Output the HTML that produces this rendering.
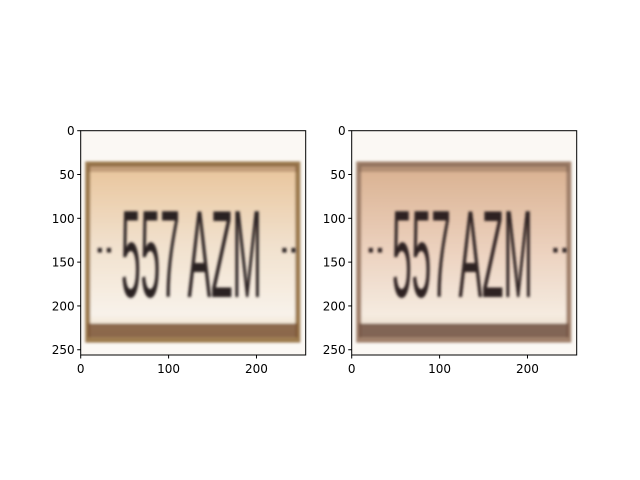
<!DOCTYPE html>
<html><head><meta charset="utf-8"><style>
body{margin:0;background:#fff;}
svg{display:block;font-family:"DejaVu Sans","Liberation Sans",sans-serif;}
</style></head><body>
<svg width="640" height="480" viewBox="0 0 640 480">
<defs>
<filter id="bl"><feGaussianBlur stdDeviation="1.4"/></filter>
<linearGradient id="g1" x1="0" y1="0" x2="0" y2="1">
<stop offset="0" stop-color="#e8c49a"/><stop offset="0.45" stop-color="#f1e0cc"/><stop offset="0.85" stop-color="#f8f2ea"/><stop offset="1" stop-color="#e8d4b4"/></linearGradient>
<linearGradient id="g2" x1="0" y1="0" x2="0" y2="1">
<stop offset="0" stop-color="#d9b08f"/><stop offset="0.5" stop-color="#ecd2bf"/><stop offset="0.85" stop-color="#f5ebe0"/><stop offset="1" stop-color="#e6d2bc"/></linearGradient>
</defs>
<g id="panels"></g>
</svg>
<script>
const xTicks=[0,100,200];
const yTicks=[0,50,100,150,200,250];
const imgSize=256;
const plateText="557 AZM";
const panels=[{x0:80.7,fill:'url(#g1)',frame:'#9c7a4e',band:'#7a5436',txt:'#2a2024'},{x0:351.7,fill:'url(#g2)',frame:'#a0806a',band:'#6e5040',txt:'#2e2220'}];
const NS='http://www.w3.org/2000/svg';
const root=document.getElementById('panels');
function mk(t,a,p){const e=document.createElementNS(NS,t);for(const k in a)e.setAttribute(k,a[k]);(p||root).appendChild(e);return e;}
const y0=130.7,W=225,H=224.3;
panels.forEach((p,i)=>{
 const sx=v=>p.x0+v/imgSize*W, sy=v=>y0+v/imgSize*H;
 const g=mk('g',{});
 
 
 mk('rect',{x:p.x0,y:y0,width:W,height:H,fill:'#fbf8f4'},g);
 const im=mk('g',{filter:'url(#bl)'},g);
 
 
 mk('rect',{x:sx(7),y:sy(37),width:sx(248)-sx(7),height:sy(240)-sy(37),fill:p.fill},im);
 mk('rect',{x:sx(8),y:sy(38),width:sx(247)-sx(8),height:sy(239)-sy(38),fill:'none',stroke:p.frame,'stroke-width':5},im);
 mk('rect',{x:sx(8),y:sy(220),width:sx(247)-sx(8),height:14,fill:p.band,opacity:0.85},im);
 mk('rect',{x:sx(8),y:sy(38),width:sx(247)-sx(8),height:8,fill:p.band,opacity:0.35},im);
 const t=mk('text',{x:sx(46),y:sy(190),'font-size':124,'font-family':'Liberation Sans Narrow, Liberation Sans, sans-serif',fill:p.txt,textLength:sx(206)-sx(46),lengthAdjust:'spacingAndGlyphs',filter:'url(#bl)'},g);
 
 
 t.textContent=plateText;
 [[28,146],[238,146]].forEach(d=>{const c=mk('text',{x:sx(d[0])-10,y:sy(d[1]),'font-size':24,'font-weight':'bold',fill:p.txt,filter:'url(#bl)'},g);c.textContent='··';});
 mk('rect',{x:p.x0,y:y0,width:W,height:H,fill:'none',stroke:'#000','stroke-width':1},g);
 xTicks.forEach(v=>{const x=sx(v);mk('line',{x1:x,x2:x,y1:y0+H,y2:y0+H+3.5,stroke:'#000'},g);
  const l=mk('text',{x:x,y:y0+H+18,'font-size':12,'text-anchor':'middle'},g);
  l.textContent=v;});
 yTicks.forEach(v=>{const y=sy(v);mk('line',{x1:p.x0-3.5,x2:p.x0,y1:y,y2:y,stroke:'#000'},g);
  const l=mk('text',{x:p.x0-6,y:y+4.5,'font-size':12,'text-anchor':'end'},g);
  l.textContent=v;});
});
</script>
</body></html>
